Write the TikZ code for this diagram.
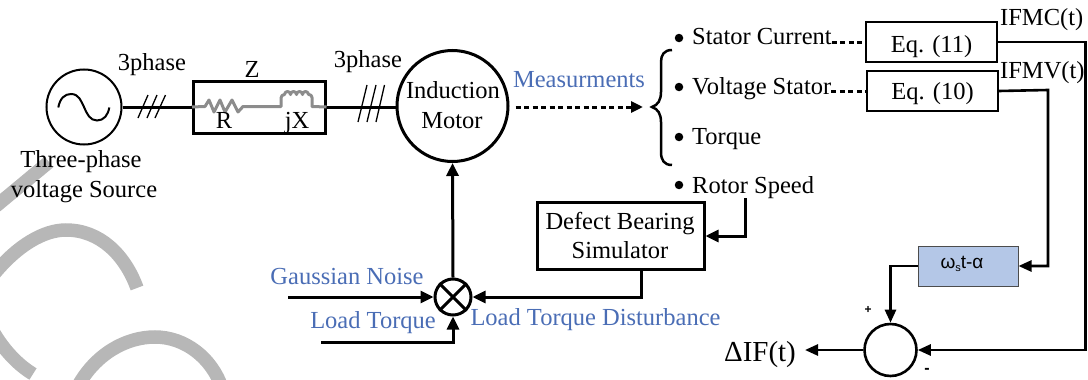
\documentclass[tikz,border=0pt]{standalone}
\usepackage{fontspec}
\setmainfont{Liberation Serif}
\newfontfamily\lsans{Liberation Sans}
\usetikzlibrary{arrows.meta}
\definecolor{wm}{HTML}{B7B7B7}
\definecolor{bluetxt}{HTML}{4A6DB5}
\definecolor{boxblue}{HTML}{B4C7E7}
\definecolor{elem}{HTML}{8C8C8C}
\tikzset{
  txt/.style={anchor=base,inner sep=0pt,font=\fontsize{24.5}{28}\selectfont},
  txtl/.style={txt,anchor=base west},
  btxt/.style={txt,text=bluetxt},
  ring/.style={circle,draw,inner sep=0pt,line width=3pt},
  bul/.style={circle,fill,inner sep=0pt,minimum size=8.5pt},
  thickbox/.style={draw,line width=3pt,inner sep=0pt},
  thinbox/.style={draw,line width=1.6pt,inner sep=0pt},
  wire/.style={line width=3pt},
  awire/.style={line width=3pt,-{Triangle[length=13pt,width=12pt]}},
  rwire/.style={line width=2.6pt,-{Triangle[length=13pt,width=11pt]}},
  dwire/.style={line width=3pt,dash pattern=on 5pt off 3.5pt},
  tick/.style={line width=1.3pt},
  wmark/.style={wm,line width=13.5pt},
  elemline/.style={elem,line width=3pt,line join=round},
}
\begin{document}
\begin{tikzpicture}[x=1pt,y=-1pt]
\useasboundingbox (0,0) rectangle (1088,380);
% watermark arcs
\begin{scope}
\clip (0,0) rectangle (1088,380);
\draw[wmark] (-4,206) -- (49,162);
\draw[wmark] (-6,274) .. controls (18,245) and (44,230) .. (66,230) .. controls (100,230) and (125,255) .. (137,288);
\draw[wmark] (-6,333) .. controls (4,350) and (18,365) .. (33,374);
\draw[wmark] (78,386) .. controls (95,355) and (125,337) .. (155,337) .. controls (185,337) and (212,358) .. (222,388);
\end{scope}
% source
\node[ring,line width=2pt,minimum size=75pt] (src) at (84,107) {};
\draw[line width=2pt] (58.3,107.5) .. controls (60,98) and (65,94) .. (71,94) .. controls (79,94) and (81,101) .. (84,107) .. controls (87,114) and (90,120.5) .. (97,120.5) .. controls (104,120.5) and (108,115) .. (109.3,107.5);
\node[txt] (t3ph) at (81,167) {Three-phase};
\node[txt] (vsrc) at (84,197) {voltage Source};
\node[txt] (ph1) at (152,70) {3phase};
% impedance
\node[thickbox,minimum width=132pt,minimum height=52pt] (zbox) at (259,107) {};
\node[txt] (zl) at (252,77) {Z};
\coordinate (r1) at (205,106.5);
\coordinate (r2) at (243,106.5);
\coordinate (l1) at (281,106.5);
\coordinate (l2) at (312,106.5);
\draw[elemline] (zbox.west) -- (r1) -- (209,100) -- (214,112) -- (220,100) -- (225,112) -- (232,100) -- (238,112) -- (r2) -- (l1)
  -- (281,98) arc[start angle=180,end angle=270,radius=3.5] arc[start angle=180,end angle=360,radius=3] arc[start angle=180,end angle=360,radius=3] arc[start angle=180,end angle=360,radius=3] arc[start angle=180,end angle=360,radius=3] -- (309,94.5) arc[start angle=270,end angle=360,radius=3] -- (l2) -- (zbox.east);
\node[txt] (rl) at (224,128) {R};
\node[txt] (jx) at (297,128) {jX};
% motor
\node[ring,minimum size=111pt] (motor) at (452.5,106) {};
\node[txt] (m1) at (453,98) {Induction};
\node[txt] (m2) at (452,128) {Motor};
\node[txt] (ph2) at (368,67.5) {3phase};
\draw[wire] (src.east) -- (zbox.west);
\draw[wire] (zbox.east) -- (motor.west |- zbox.east);
\foreach \a/\b/\c/\d in {138/118/148/95,147/118/157/95,155/118/165.5/95,358/122/367/85,367/122/376/85,376/122/384.5/85}
  \draw[tick] (\a,\b) -- (\c,\d);
% measurements
\node[btxt] (meas) at (579,87) {Measurments};
\coordinate (btip) at (652,107);
\draw[line width=2.5pt] (672,50) .. controls (664,50) and (661,55) .. (661,62) -- (661,92) .. controls (661,100) and (658,105) .. (btip) .. controls (658,109) and (661,114) .. (661,122) -- (661,152) .. controls (661,160) and (664,165) .. (672,165);
\draw[dwire,-{Triangle[length=12pt,width=11pt]},shorten <=6pt,shorten >=9pt] (motor.east |- btip) -- (btip);
\node[bul] (b1) at (679,38) {};
\node[bul] (b2) at (679,87) {};
\node[bul] (b3) at (679,137) {};
\node[bul] (b4) at (679,185) {};
\node[txtl] (s1) at (692,45) {Stator Current};
\node[txtl] (s2) at (692,94) {Voltage Stator};
\node[txtl] (s3) at (692,144) {Torque};
\node[txtl] (s4) at (692,193) {Rotor Speed};
% equations
\node[thinbox,minimum width=131pt,minimum height=40pt] (eq11) at (931.5,42) {};
\node[txt] (eq11t) at (931.5,52) {Eq. (11)};
\node[thinbox,minimum width=131pt,minimum height=40pt] (eq10) at (932.5,91) {};
\node[txt] (eq10t) at (932.5,99) {Eq. (10)};
\draw[dwire] (s1.east |- eq11.west) -- (eq11.west);
\draw[dwire] (s2.east |- eq10.west) -- (eq10.west);
\node[txtl] (ifmc) at (1000,25) {IFMC(t)};
\node[txtl] (ifmv) at (1000,78) {IFMV(t)};
% phase block
\node[draw=black!70,fill=boxblue,line width=1pt,inner sep=0pt,minimum width=100pt,minimum height=40pt] (wt) at (968,266) {};
\node[anchor=base,inner sep=0pt,font=\lsans\fontsize{19}{22}\selectfont] (wtt) at (962,268) {ω\raisebox{-3pt}{\fontsize{11}{12}\selectfont s}t-α};
% sum
\node[ring,line width=2.6pt,minimum size=52pt] (sum) at (890.5,350) {};
\node[anchor=center,inner sep=0pt,font=\lsans\bfseries\fontsize{12}{12}\selectfont] (pl) at (868,310) {+};
\node[anchor=center,inner sep=0pt,font=\lsans\bfseries\fontsize{16}{16}\selectfont] (mi) at (927,371) {-};
\node[txt,font=\fontsize{29}{32}\selectfont] (dif) at (760,361) {ΔIF(t)};
\coordinate (c1) at (1085.5,42);
\coordinate (c2) at (1048,90);
\draw[rwire] (eq11.east) -- (c1) |- (sum.east);
\draw[rwire] (eq10.east) -- (c2) |- (wt.east);
\draw[rwire] (wt.west) -| (sum.north);
\coordinate (difr) at (805,350);
\draw[rwire] (sum.west) -- (difr);
% bearing
\node[thickbox,minimum width=167pt,minimum height=67pt] (def) at (620.5,235.5) {};
\node[txt] (d1) at (620,229) {Defect Bearing};
\node[txt] (d2) at (620,258) {Simulator};
\coordinate (rs) at (745,198);
\draw[awire] (rs) |- (def.east |- 0,236);
\node[ring,minimum size=36pt] (mix) at (453,297) {};
\draw[line width=3pt] (mix.45) -- (mix.225) (mix.135) -- (mix.315);
\draw[awire] (mix.north) -- (motor.south);
\coordinate (dout) at (641,269);
\draw[awire] (dout) |- (mix.east);
\coordinate (gn) at (288,297);
\draw[awire] (gn) -- (mix.west);
\coordinate (lt) at (321,342);
\draw[awire] (lt) -| (mix.south);
\node[btxt] (gnt) at (347,284) {Gaussian Noise};
\node[btxt] (ltt) at (373,328) {Load Torque};
\node[btxt] (ltd) at (595.5,325) {Load Torque Disturbance};
\end{tikzpicture}
\end{document}
